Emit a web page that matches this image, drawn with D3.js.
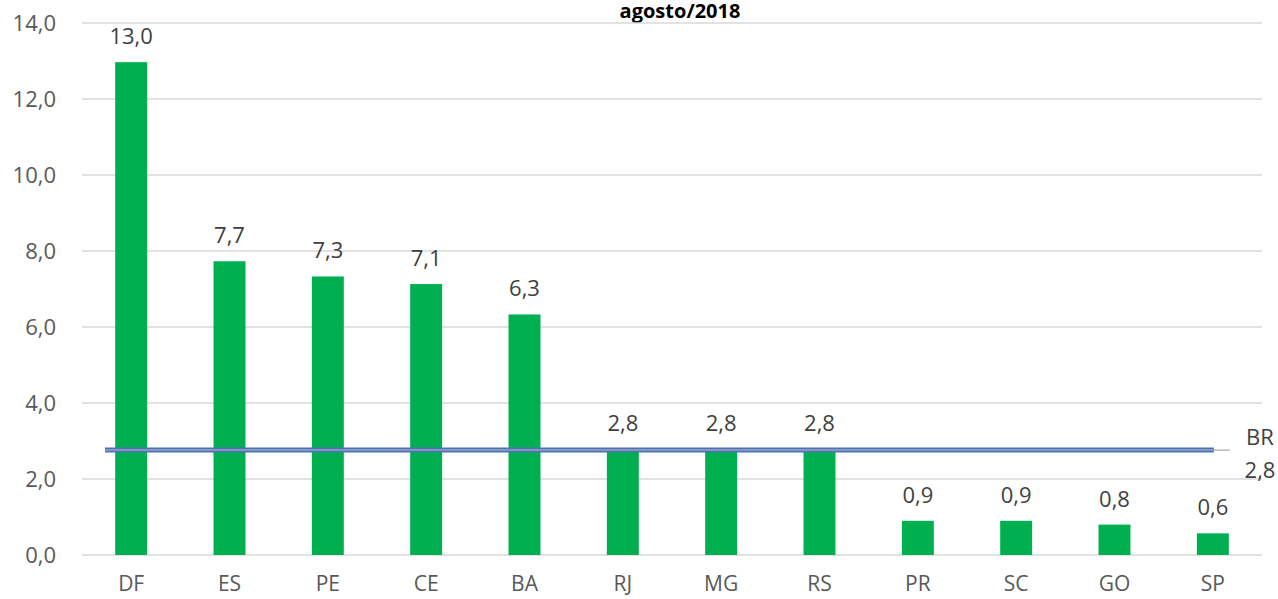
<!DOCTYPE html>
<html>
<head>
<meta charset="utf-8">
<script src="https://cdn.jsdelivr.net/npm/d3@7"></script>
<style>
  body { margin: 0; background: #fff; }
  text { font-family: "Open Sans", "Noto Sans", sans-serif; }
</style>
</head>
<body>
<script>
// data
var states = ["DF", "ES", "PE", "CE", "BA", "RJ", "MG", "RS", "PR", "SC", "GO", "SP"];
var values = [12.97, 7.73, 7.33, 7.13, 6.33, 2.78, 2.78, 2.78, 0.9, 0.9, 0.8, 0.57];
var brValue = 2.76;
var yTicks = [0, 2, 4, 6, 8, 10, 12, 14];
var title = "agosto/2018";

var margin = {top: 23, right: 16, bottom: 44, left: 82},
    width = 1278 - margin.left - margin.right,
    height = 599 - margin.top - margin.bottom;

var fmt = function(v) { return v.toFixed(1).replace(".", ","); };

var x = d3.scaleBand()
    .domain(states)
    .range([0, width])
    .paddingInner(0.675)
    .paddingOuter(0.3375);

var y = d3.scaleLinear()
    .domain([0, 14])
    .range([height, 0]);

var svg = d3.select("body")
    .append("svg")
        .attr("width", 1278)
        .attr("height", 599)
    .append("g")
        .attr("transform", "translate(" + margin.left + "," + margin.top + ")");

// title
svg.append("text")
    .attr("x", 680 - margin.left)
    .attr("y", 18 - margin.top)
    .attr("text-anchor", "middle")
    .style("font-weight", "bold")
    .style("font-size", "20px")
    .attr("fill", "#000")
    .text(title);

// gridlines
svg.selectAll(".grid")
    .data(yTicks)
  .enter().append("line")
    .attr("x1", 0)
    .attr("x2", width)
    .attr("y1", function(d) { return y(d); })
    .attr("y2", function(d) { return y(d); })
    .attr("stroke", "#d9d9d9")
    .attr("stroke-width", 1.3);

// y axis labels
var yAxis = d3.axisLeft(y).tickValues(yTicks).tickFormat(fmt).tickSize(0).tickPadding(26);
var gy = svg.append("g").call(yAxis);
gy.select(".domain").remove();
gy.selectAll("text").attr("fill", "#595959").style("font-size", "22px");

// x axis labels
var xAxis = d3.axisBottom(x).tickSize(0).tickPadding(21);
var gx = svg.append("g")
    .attr("transform", "translate(0," + height + ")")
    .call(xAxis);
gx.select(".domain").remove();
gx.selectAll("text").attr("fill", "#595959").style("font-size", "21px");

// bars
svg.selectAll(".bar")
    .data(values)
  .enter().append("rect")
    .attr("x", function(d, i) { return x(states[i]); })
    .attr("width", x.bandwidth())
    .attr("y", function(d) { return y(d); })
    .attr("height", function(d) { return height - y(d); })
    .attr("fill", "#00b050");

// value labels
svg.selectAll(".lbl")
    .data(values)
  .enter().append("text")
    .attr("x", function(d, i) { return x(states[i]) + x.bandwidth() / 2; })
    .attr("y", function(d) { return y(d) - 18; })
    .attr("text-anchor", "middle")
    .attr("fill", "#404040")
    .style("font-size", "22px")
    .text(function(d) { return fmt(d); });

// BR average line
var bx1 = x("DF") - x.step() * x.paddingOuter() + 23;
var bx2 = x("SP") + x.bandwidth() / 2 + 1;
var by = y(brValue);
svg.append("line")
    .attr("x1", bx1).attr("x2", bx2).attr("y1", by).attr("y2", by)
    .attr("stroke", "#4472c4").attr("stroke-width", 5);
svg.append("line")
    .attr("x1", bx1).attr("x2", bx2).attr("y1", by).attr("y2", by)
    .attr("stroke", "#a5a5a5").attr("stroke-width", 1.5);
svg.append("line")
    .attr("x1", bx2).attr("x2", bx2 + 16).attr("y1", by).attr("y2", by)
    .attr("stroke", "#a5a5a5").attr("stroke-width", 1.2);

svg.append("text")
    .attr("x", 1260 - margin.left)
    .attr("y", 445 - margin.top)
    .attr("text-anchor", "middle")
    .attr("fill", "#404040")
    .style("font-size", "22px")
    .text("BR");
svg.append("text")
    .attr("x", 1260 - margin.left)
    .attr("y", 478 - margin.top)
    .attr("text-anchor", "middle")
    .attr("fill", "#404040")
    .style("font-size", "22px")
    .text(fmt(brValue));
</script>
</body>
</html>
